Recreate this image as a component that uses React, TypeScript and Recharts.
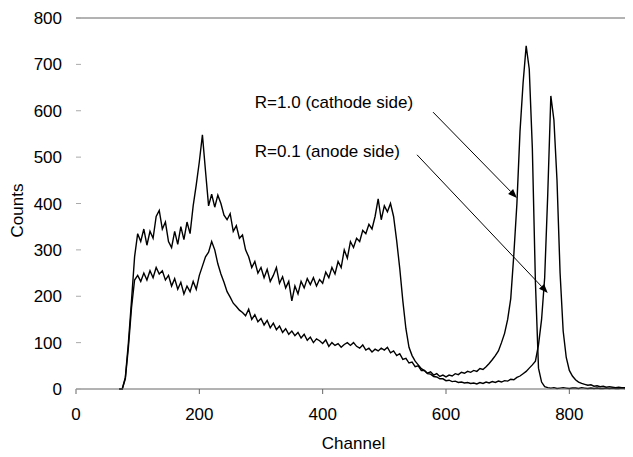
import {
  Line,
  LineChart,
  ReferenceDot,
  ReferenceLine,
  XAxis,
  YAxis,
} from "recharts"

// channel bins, step 5
const channels = [
  0, 5, 10, 15, 20, 25, 30, 35, 40, 45, 50, 55, 60, 65, 70, 75, 80, 85, 90, 95,
  100, 105, 110, 115, 120, 125, 130, 135, 140, 145, 150, 155, 160, 165, 170, 175, 180, 185, 190, 195,
  200, 205, 210, 215, 220, 225, 230, 235, 240, 245, 250, 255, 260, 265, 270, 275, 280, 285, 290, 295,
  300, 305, 310, 315, 320, 325, 330, 335, 340, 345, 350, 355, 360, 365, 370, 375, 380, 385, 390, 395,
  400, 405, 410, 415, 420, 425, 430, 435, 440, 445, 450, 455, 460, 465, 470, 475, 480, 485, 490, 495,
  500, 505, 510, 515, 520, 525, 530, 535, 540, 545, 550, 555, 560, 565, 570, 575, 580, 585, 590, 595,
  600, 605, 610, 615, 620, 625, 630, 635, 640, 645, 650, 655, 660, 665, 670, 675, 680, 685, 690, 695,
  700, 705, 710, 715, 720, 725, 730, 735, 740, 745, 750, 755, 760, 765, 770, 775, 780, 785, 790, 795,
  800, 805, 810, 815, 820, 825, 830, 835, 840, 845, 850, 855, 860, 865, 870, 875, 880, 885, 890, 895,
  900,
]

// R=1.0 (cathode side); null = no counts recorded below the threshold
const cathode = [
  null, null, null, null, null, null, null, null, null, null,
  null, null, null, null, 0, 0, 25, 100, 190, 285,
  335, 318, 345, 310, 340, 325, 372, 385, 345, 360,
  318, 305, 340, 312, 350, 322, 360, 335, 395, 440,
  490, 548, 470, 395, 420, 392, 418, 400, 375, 365,
  378, 340, 352, 325, 332, 300, 285, 262, 275, 250,
  262, 240, 258, 232, 245, 262, 228, 242, 218, 232,
  190, 222, 205, 232, 218, 238, 225, 240, 222, 236,
  228, 252, 240, 262, 248, 275, 262, 300, 282, 318,
  305, 325, 318, 342, 335, 355, 345, 372, 410, 365,
  395, 382, 400, 372, 320, 260, 190, 130, 90, 72,
  60, 52, 44, 40, 34, 37, 30, 33, 27, 30,
  26, 30, 28, 33, 31, 36, 34, 38, 36, 40,
  38, 44, 42, 48, 55, 63, 72, 82, 100, 120,
  150, 195, 290, 400, 555, 660, 740, 690, 520, 230,
  45, 15, 5, 3, 2, 3, 1, 2, 3, 2,
  1, 2, 2, 1, 3, 2, 1, 2, 1, 2,
  1, 1, 2, 1, 2, 1, 1, 2, 1, 1,
  2,
]

// R=0.1 (anode side)
const anode = [
  null, null, null, null, null, null, null, null, null, null,
  null, null, null, null, 0, 0, 22, 90, 175, 235,
  245, 232, 250, 235, 255, 240, 262, 248, 255, 235,
  245, 222, 238, 215, 230, 205, 222, 210, 232, 215,
  245, 265, 285, 295, 318, 300, 270, 248, 230, 210,
  198, 185, 178, 170, 165, 158, 172, 150, 160, 145,
  152, 138, 148, 132, 142, 128, 136, 122, 130, 118,
  125, 115, 122, 110, 118, 105, 112, 100, 108, 104,
  98, 106, 92, 100, 94, 98, 90, 96, 100, 94,
  100, 92, 88, 95, 84, 88, 80, 86, 82, 88,
  84, 90, 78, 82, 72, 76, 64, 66, 56, 58,
  48, 50, 40, 40, 33, 32, 27, 26, 22, 22,
  18, 19, 16, 17, 14, 15, 13, 14, 12, 13,
  11, 14, 12, 15, 13, 16, 14, 17, 15, 18,
  17, 21, 20, 25, 28, 33, 38, 45, 52, 60,
  95, 150, 240, 420, 632, 580, 450, 250, 125, 68,
  40, 28, 20, 15, 12, 10, 8, 9, 6, 7,
  5, 6, 4, 5, 4, 3, 4, 3, 3, 2,
  3,
]

const xTicks = [0, 200, 400, 600, 800]
const yTicks = [0, 100, 200, 300, 400, 500, 600, 700, 800]

const notes = [
  { text: "R=1.0 (cathode side)", ch: 290, count: 606, from: { x: 579, y: 597 }, to: { x: 715, y: 412 } },
  { text: "R=0.1 (anode side)", ch: 290, count: 500, from: { x: 553, y: 505 }, to: { x: 765, y: 207 } },
]

const data = channels.map((ch, i) => ({ ch, cathode: cathode[i], anode: anode[i] }))

const FONT = "Arial, 'Liberation Sans', sans-serif"
const FS = 17

const Arrow = (p: any) => {
  const { x1, y1, x2, y2 } = p
  const a = Math.atan2(y2 - y1, x2 - x1)
  const len = 9
  const half = 3.5
  const bx = x2 - len * Math.cos(a)
  const by = y2 - len * Math.sin(a)
  const pts = `${x2},${y2} ${bx + half * Math.sin(a)},${by - half * Math.cos(a)} ${bx - half * Math.sin(a)},${by + half * Math.cos(a)}`
  return (
    <g>
      <line x1={x1} y1={y1} x2={bx} y2={by} stroke="#000" strokeWidth={1} />
      <polygon points={pts} fill="#000" />
    </g>
  )
}

const noteText = (text: string) => (p: any) => (
  <text x={p.cx} y={p.cy} fontSize={FS} fontFamily={FONT} fill="#000">
    {text}
  </text>
)

const CountsLabel = ({ viewBox }: any) => {
  const cx = viewBox.x + 17
  const cy = viewBox.y + viewBox.height / 2 + 7
  return (
    <text
      x={cx}
      y={cy}
      transform={`rotate(-90, ${cx}, ${cy})`}
      textAnchor="middle"
      dominantBaseline="central"
      fontSize={FS}
      fontFamily={FONT}
      fill="#000"
    >
      Counts
    </text>
  )
}

const ChannelLabel = ({ viewBox }: any) => (
  <text
    x={viewBox.x + viewBox.width / 2}
    y={viewBox.y + 54}
    textAnchor="middle"
    dominantBaseline="central"
    fontSize={FS}
    fontFamily={FONT}
    fill="#000"
  >
    Channel
  </text>
)

export default function App() {
  return (
    <div style={{ marginLeft: -8, marginTop: -8, width: 633, height: 457, background: "#fff" }}>
      <LineChart width={633} height={457} data={data} margin={{ top: 18, right: 0, bottom: 0, left: 0 }}>
        <XAxis
          dataKey="ch"
          type="number"
          domain={[0, 900]}
          ticks={xTicks}
          height={68}
          tickSize={5}
          tickMargin={14}
          stroke="#666"
          tick={{ fill: "#000", fontSize: FS, fontFamily: FONT }}
          label={{ content: ChannelLabel }}
        />
        <YAxis
          domain={[0, 800]}
          ticks={yTicks}
          width={76}
          axisLine={false}
          tickSize={-5}
          tickMargin={19}
          tickLine={{ stroke: "#aaa" }}
          tick={{ fill: "#000", fontSize: FS, fontFamily: FONT }}
          label={{ content: CountsLabel }}
        />
        <YAxis
          yAxisId="right"
          orientation="right"
          domain={[0, 800]}
          ticks={yTicks}
          width={2}
          axisLine={false}
          tickSize={-5}
          tickLine={{ stroke: "#aaa" }}
          tick={false}
        />
        <ReferenceLine y={800} stroke="#666" />
        <Line type="linear" dataKey="cathode" stroke="#000" strokeWidth={1.4} dot={false} isAnimationActive={false} />
        <Line type="linear" dataKey="anode" stroke="#000" strokeWidth={1.4} dot={false} isAnimationActive={false} />
        {notes.map((n) => (
          <ReferenceDot key={n.text} x={n.ch} y={n.count} r={0} shape={noteText(n.text)} />
        ))}
        {notes.map((n) => (
          <ReferenceLine key={n.text + "-arrow"} segment={[n.from, n.to]} shape={Arrow} />
        ))}
      </LineChart>
    </div>
  )
}
